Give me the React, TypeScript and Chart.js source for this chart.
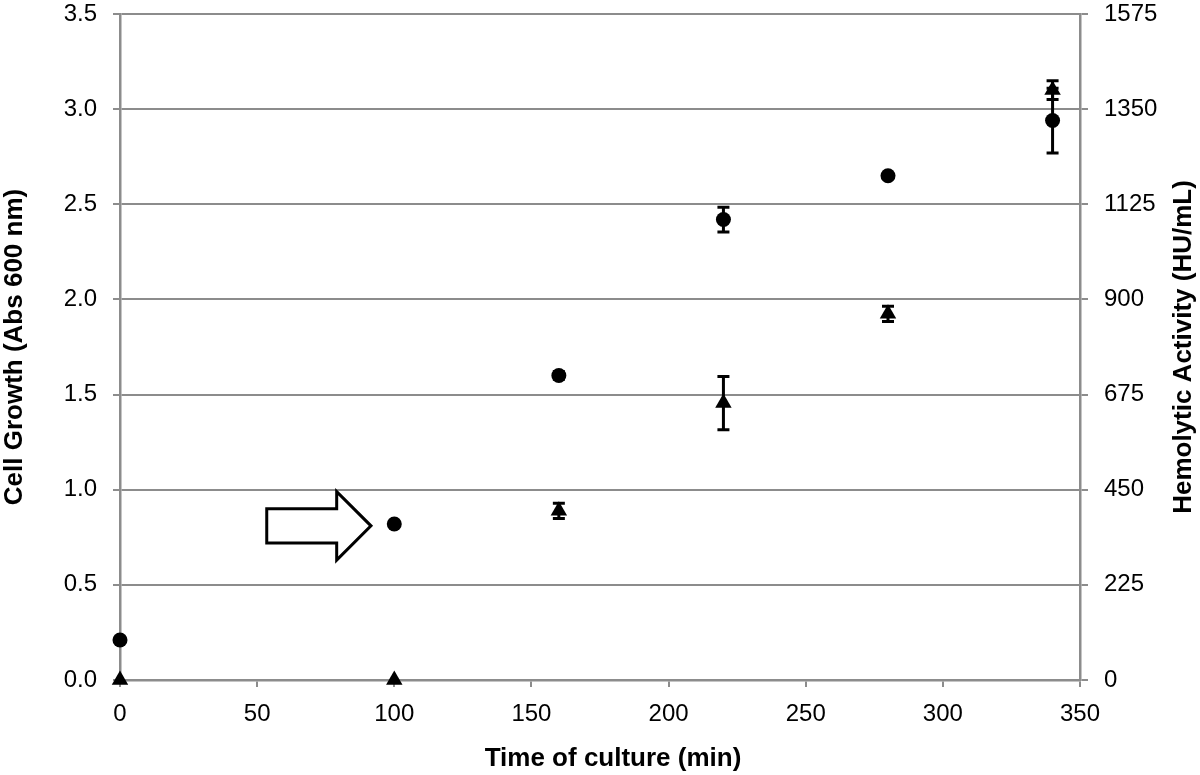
import React, { useEffect, useRef } from "react";
import { Chart, registerables } from "chart.js";

Chart.register(...registerables);

// ---- Data ----
const timeMin = [0, 100, 160, 220, 280, 340];
const cellGrowth = [0.21, 0.82, 1.6, 2.42, 2.65, 2.94];
const cellGrowthErr = [0, 0, 0.02, 0.065, 0, 0.17];
const hemolytic = [0, 0, 400, 655, 866, 1395];
const hemolyticErr = [0, 0, 18, 63, 18, 22];

const xTicks = [0, 50, 100, 150, 200, 250, 300, 350];
const leftTicks = [0, 0.5, 1, 1.5, 2, 2.5, 3, 3.5];
const rightTicks = [0, 225, 450, 675, 900, 1125, 1350, 1575];

const xTitle = "Time of culture (min)";
const leftTitle = "Cell Growth (Abs 600 nm)";
const rightTitle = "Hemolytic Activity (HU/mL)";

// Arrow annotation (data units: x in min, y in Abs)
const arrowTail = 53.5;
const arrowNeck = 79;
const arrowTip = 91.5;
const arrowY = 0.81;
const arrowBodyHalf = 0.09;
const arrowHeadHalf = 0.18;

const FONT = "'Liberation Sans', Arial, Helvetica, sans-serif";
const GRID = "#8c8c8c";

export default function App() {
  const ref = useRef<HTMLCanvasElement | null>(null);

  useEffect(() => {
    document.body.style.margin = "0";
    const canvas = ref.current;
    if (!canvas) return;

    const errorBars = {
      id: "errorBars",
      afterDatasetsDraw(chart: any) {
        const ctx = chart.ctx;
        const x = chart.scales.x;
        const sets = [
          { vals: cellGrowth, errs: cellGrowthErr, scale: chart.scales.y },
          { vals: hemolytic, errs: hemolyticErr, scale: chart.scales.y2 },
        ];
        ctx.save();
        ctx.strokeStyle = "#000";
        ctx.lineWidth = 3;
        sets.forEach((s) => {
          s.vals.forEach((v, i) => {
            const e = s.errs[i];
            if (!e) return;
            const px = x.getPixelForValue(timeMin[i]);
            const top = s.scale.getPixelForValue(v + e);
            const bot = s.scale.getPixelForValue(v - e);
            ctx.beginPath();
            ctx.moveTo(px, top);
            ctx.lineTo(px, bot);
            ctx.moveTo(px - 6, top);
            ctx.lineTo(px + 6, top);
            ctx.moveTo(px - 6, bot);
            ctx.lineTo(px + 6, bot);
            ctx.stroke();
          });
        });
        ctx.restore();
      },
    };

    const arrowAndTitles = {
      id: "arrowAndTitles",
      afterDraw(chart: any) {
        const ctx = chart.ctx;
        const x = chart.scales.x;
        const y = chart.scales.y;
        const ca = chart.chartArea;
        ctx.save();
        // arrow
        const xt = x.getPixelForValue(arrowTail);
        const xn = x.getPixelForValue(arrowNeck);
        const xp = x.getPixelForValue(arrowTip);
        const yc = y.getPixelForValue(arrowY);
        const bt = y.getPixelForValue(arrowY + arrowBodyHalf);
        const bb = y.getPixelForValue(arrowY - arrowBodyHalf);
        const ht = y.getPixelForValue(arrowY + arrowHeadHalf);
        const hb = y.getPixelForValue(arrowY - arrowHeadHalf);
        ctx.beginPath();
        ctx.moveTo(xt, bt);
        ctx.lineTo(xn, bt);
        ctx.lineTo(xn, ht);
        ctx.lineTo(xp, yc);
        ctx.lineTo(xn, hb);
        ctx.lineTo(xn, bb);
        ctx.lineTo(xt, bb);
        ctx.closePath();
        ctx.fillStyle = "#fff";
        ctx.fill();
        ctx.lineWidth = 3;
        ctx.strokeStyle = "#000";
        ctx.lineJoin = "miter";
        ctx.stroke();

        // titles
        ctx.fillStyle = "#000";
        ctx.font = `bold 26px ${FONT}`;
        ctx.textAlign = "center";
        ctx.textBaseline = "middle";
        const cy = (ca.top + ca.bottom) / 2;
        ctx.fillText(xTitle, (ca.left + ca.right) / 2 + 13, 759);
        ctx.save();
        ctx.translate(15, cy);
        ctx.rotate(-Math.PI / 2);
        ctx.fillText(leftTitle, 0, 0);
        ctx.restore();
        ctx.save();
        ctx.translate(1184, cy);
        ctx.rotate(-Math.PI / 2);
        ctx.fillText(rightTitle, 0, 0);
        ctx.restore();
        ctx.restore();
      },
    };

    const fitY = (s: any) => {
      s.width = 120;
      s.paddingTop = 0;
      s.paddingBottom = 0;
    };

    const chart = new Chart(canvas, {
      type: "scatter",
      data: {
        datasets: [
          {
            label: "Cell Growth",
            data: timeMin.map((t, i) => ({ x: t, y: cellGrowth[i] })),
            yAxisID: "y",
            pointStyle: "circle",
            pointRadius: 7.5,
            backgroundColor: "#000",
            borderColor: "#000",
            borderWidth: 0,
            clip: false,
          },
          {
            label: "Hemolytic Activity",
            data: timeMin.map((t, i) => ({ x: t, y: hemolytic[i] })),
            yAxisID: "y2",
            pointStyle: "triangle",
            pointRadius: 9.5,
            backgroundColor: "#000",
            borderColor: "#000",
            borderWidth: 0,
            clip: false,
          },
        ] as any,
      },
      options: {
        responsive: false,
        animation: false,
        devicePixelRatio: 1,
        layout: { padding: { top: 14, left: 0, right: 0, bottom: 0 } },
        plugins: {
          legend: { display: false },
          tooltip: { enabled: false },
        },
        scales: {
          x: {
            type: "linear",
            min: 0,
            max: 350,
            afterFit: (s: any) => {
              s.height = 95;
              s.paddingLeft = 0;
              s.paddingRight = 0;
            },
            afterBuildTicks: (s: any) => {
              s.ticks = xTicks.map((v) => ({ value: v }));
            },
            ticks: {
              color: "#000",
              font: { family: FONT, size: 24 },
              padding: 13,
              maxRotation: 0,
            },
            grid: {
              drawOnChartArea: false,
              drawTicks: true,
              tickLength: 7,
              color: GRID,
              lineWidth: 2,
            },
            border: { display: true, color: GRID, width: 2.5 },
          },
          y: {
            type: "linear",
            position: "left",
            min: 0,
            max: 3.5,
            afterFit: fitY,
            afterBuildTicks: (s: any) => {
              s.ticks = leftTicks.map((v) => ({ value: v }));
            },
            ticks: {
              color: "#000",
              font: { family: FONT, size: 24 },
              padding: 16,
              callback: (v: any) => Number(v).toFixed(1),
            },
            grid: {
              drawOnChartArea: true,
              drawTicks: true,
              tickLength: 7,
              color: GRID,
              lineWidth: 2,
            },
            border: { display: true, color: GRID, width: 2.5 },
          },
          y2: {
            type: "linear",
            position: "right",
            min: 0,
            max: 1575,
            afterFit: fitY,
            afterBuildTicks: (s: any) => {
              s.ticks = rightTicks.map((v) => ({ value: v }));
            },
            ticks: {
              color: "#000",
              font: { family: FONT, size: 24 },
              padding: 16,
              callback: (v: any) => String(v),
            },
            grid: {
              drawOnChartArea: false,
              drawTicks: true,
              tickLength: 8,
              color: GRID,
              lineWidth: 2,
            },
            border: { display: true, color: GRID, width: 2.5 },
          },
        },
      } as any,
      plugins: [errorBars, arrowAndTitles],
    });

    return () => chart.destroy();
  }, []);

  return (
    <div style={{ width: 1200, height: 775, background: "#fff" }}>
      <canvas ref={ref} width={1200} height={775} style={{ display: "block" }} />
    </div>
  );
}
